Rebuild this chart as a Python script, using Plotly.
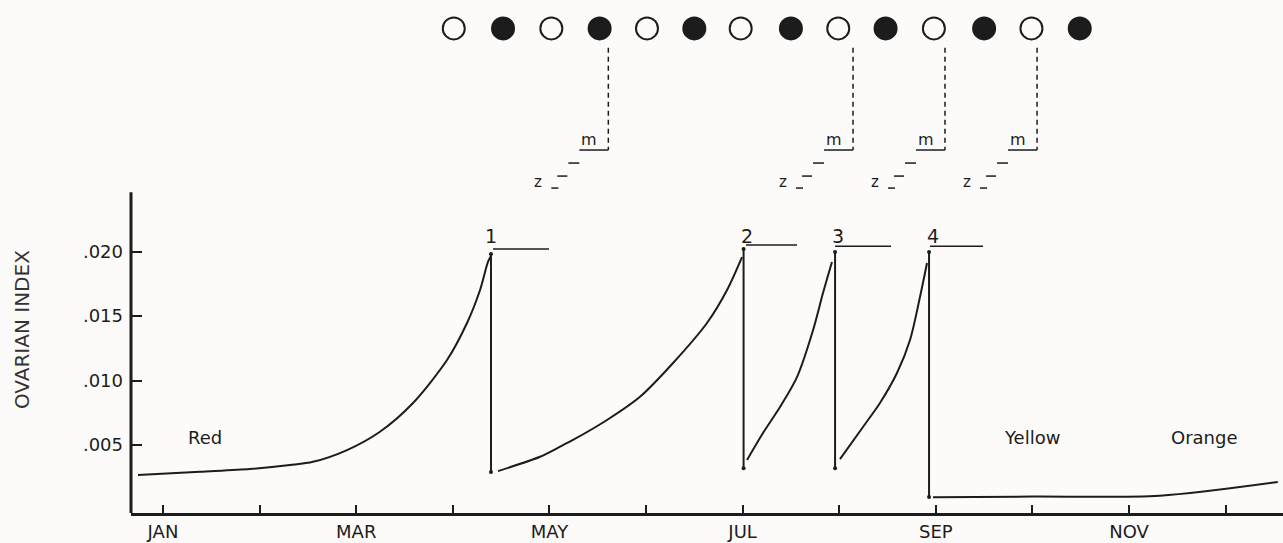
import plotly.graph_objects as go

# ---------------- data (x in months: 1 = JAN tick ... 12 = DEC tick) ----------------
month_ticks = [1, 2, 3, 4, 5, 6, 7, 8, 9, 10, 11, 12]
month_labels = ["JAN", "", "MAR", "", "MAY", "", "JUL", "", "SEP", "", "NOV", ""]

y_ticks = [0.005, 0.010, 0.015, 0.020]
y_labels = [".005", ".010", ".015", ".020"]

# growth curves of the ovarian index (one per ovarian cycle)
cycle1_x = [0.741, 1.383, 1.90, 2.315, 2.553, 2.905, 3.246, 3.588, 3.94, 4.147, 4.282, 4.364, 4.395]
cycle1_y = [0.00267, 0.00293, 0.00314, 0.00345, 0.0037, 0.00461, 0.00603, 0.00826, 0.01159, 0.01446, 0.01702, 0.01919, 0.01965]

cycle2_x = [4.468, 4.903, 5.11, 5.244, 5.596, 5.938, 6.28, 6.631, 6.839, 6.994]
cycle2_y = [0.00298, 0.00409, 0.00487, 0.00539, 0.00694, 0.00874, 0.01136, 0.01446, 0.01702, 0.01957]

cycle3_x = [7.046, 7.211, 7.387, 7.563, 7.729, 7.832, 7.925]
cycle3_y = [0.00384, 0.00593, 0.00795, 0.01027, 0.0139, 0.01678, 0.01919]

cycle4_x = [8.008, 8.246, 8.422, 8.598, 8.733, 8.836, 8.909]
cycle4_y = [0.00391, 0.0064, 0.00826, 0.01058, 0.01314, 0.01647, 0.01911]

rest_x = [8.971, 10.0, 11.32, 12.54]
rest_y = [0.00095, 0.001, 0.00107, 0.00213]

# spawnings (vertical drops)
spawn_x = [4.395, 7.01, 7.957, 8.93]
spawn_top = [0.0198, 0.0202, 0.01996, 0.01996]
spawn_bottom = [0.0029, 0.0032, 0.0032, 0.00097]
spawn_labels = ["1", "2", "3", "4"]
spawn_label_x = [4.395, 7.05, 7.99, 8.97]
spawn_label_y = [0.0212, 0.0212, 0.0212, 0.0212]
spawn_bar_x0 = [4.416, 7.035, 7.957, 8.94]
spawn_bar_x1 = [4.996, 7.563, 8.536, 9.489]
spawn_bar_y = [0.0202, 0.0205, 0.0204, 0.0204]

# lunar phases (open = full moon, filled = new moon)
moon_x = [4.01, 4.52, 5.02, 5.52, 6.01, 6.50, 6.98, 7.50, 7.99, 8.48, 8.98, 9.50, 9.99, 10.49]
moon_phase = ["full", "new", "full", "new", "full", "new", "full", "new", "full", "new", "full", "new", "full", "new"]
moon_y = 0.0373

# tide markers (m / z staircase) linked to spawnings
tide_x = [5.61, 8.143, 9.095, 10.048]
tide_top = 0.0358
tide_m_level = 0.02787

# ---------------- styling ----------------
INK = "#1c1c1c"
BG = "#fdfbf9"
FONT = "DejaVu Sans"
XMIN, XMAX = 0.6687, 12.594
YMIN, YMAX = -0.00027, 0.0395
AXIS_TOP = 0.0246

fig = go.Figure()

for cx, cy in [(cycle1_x, cycle1_y), (cycle2_x, cycle2_y), (cycle3_x, cycle3_y), (cycle4_x, cycle4_y), (rest_x, rest_y)]:
    fig.add_trace(go.Scatter(x=cx, y=cy, mode="lines",
                             line=dict(color=INK, width=2, shape="spline", smoothing=0.8),
                             hoverinfo="skip", showlegend=False))

for sx, st, sb in zip(spawn_x, spawn_top, spawn_bottom):
    fig.add_trace(go.Scatter(x=[sx, sx], y=[st, sb], mode="lines+markers",
                             line=dict(color=INK, width=2), marker=dict(size=4, color=INK),
                             hoverinfo="skip", showlegend=False))

for x0, x1, yb in zip(spawn_bar_x0, spawn_bar_x1, spawn_bar_y):
    fig.add_trace(go.Scatter(x=[x0, x1], y=[yb, yb], mode="lines",
                             line=dict(color=INK, width=1.5),
                             hoverinfo="skip", showlegend=False))

for lab, lx, ly in zip(spawn_labels, spawn_label_x, spawn_label_y):
    fig.add_annotation(x=lx, y=ly, text=lab, showarrow=False, xref="x", yref="y",
                       font=dict(family=FONT, size=19, color=INK))

# moons
fig.add_trace(go.Scatter(
    x=moon_x, y=[moon_y] * len(moon_x), mode="markers",
    marker=dict(size=22,
                symbol=["circle-open" if p == "full" else "circle" for p in moon_phase],
                color=INK, line=dict(color=INK, width=2)),
    hoverinfo="skip", showlegend=False))

# tide staircases
PX = 1 / 96.6  # month per pixel (style offsets)
for tx in tide_x:
    fig.add_trace(go.Scatter(x=[tx, tx], y=[tide_top, tide_m_level], mode="lines",
                             line=dict(color=INK, width=1.5, dash="5px,4px"),
                             hoverinfo="skip", showlegend=False))
    fig.add_trace(go.Scatter(x=[tx - 29 * PX, tx], y=[tide_m_level, tide_m_level], mode="lines",
                             line=dict(color=INK, width=1.5),
                             hoverinfo="skip", showlegend=False))
    steps_x = [tx - 40 * PX, tx - 29 * PX, None, tx - 51 * PX, tx - 41 * PX, None, tx - 57 * PX, tx - 50 * PX]
    steps_y = [0.02686, 0.02686, None, 0.02585, 0.02585, None, 0.02492, 0.02492]
    fig.add_trace(go.Scatter(x=steps_x, y=steps_y, mode="lines",
                             line=dict(color=INK, width=1.5),
                             hoverinfo="skip", showlegend=False))
    fig.add_annotation(x=tx - 19 * PX, y=0.02865, text="m", showarrow=False,
                       font=dict(family=FONT, size=16, color=INK))
    fig.add_annotation(x=tx - 70 * PX, y=0.02539, text="z", showarrow=False,
                       font=dict(family=FONT, size=15, color=INK))

# colour labels
for txt, lx in [("Red", 1.435), ("Yellow", 10.0), ("Orange", 11.78)]:
    fig.add_annotation(x=lx, y=0.00562, text=txt, showarrow=False,
                       font=dict(family=FONT, size=18, color=INK))

# y-axis title
fig.add_annotation(x=-0.0946, y=0.3567, xref="paper", yref="paper", text="OVARIAN INDEX",
                   xanchor="center", yanchor="middle",
                   textangle=-90, showarrow=False, font=dict(family=FONT, size=20, color="#333333"))

# y-axis line
fig.add_shape(type="line", xref="paper", yref="y", x0=0, x1=0, y0=YMIN, y1=AXIS_TOP,
              line=dict(color=INK, width=3))

fig.update_layout(
    width=1283, height=543,
    margin=dict(l=131, r=0, t=0, b=30),
    paper_bgcolor=BG, plot_bgcolor=BG,
    xaxis=dict(range=[XMIN, XMAX], tickvals=month_ticks, ticktext=month_labels,
               ticks="inside", ticklen=8, tickwidth=2, tickcolor=INK,
               showline=True, linewidth=3, linecolor=INK, showgrid=False, zeroline=False,
               tickfont=dict(family=FONT, size=18, color=INK)),
    yaxis=dict(range=[YMIN, YMAX], tickvals=y_ticks, ticktext=y_labels,
               ticks="inside", ticklen=11, tickwidth=2, tickcolor=INK,
               showline=False, showgrid=False, zeroline=False, ticklabelstandoff=7,
               tickfont=dict(family=FONT, size=18, color=INK)),
)

fig.write_html("out.html", config={"displayModeBar": False},
               post_script="document.body.style.margin='0px';document.body.style.background='%s';" % BG)
